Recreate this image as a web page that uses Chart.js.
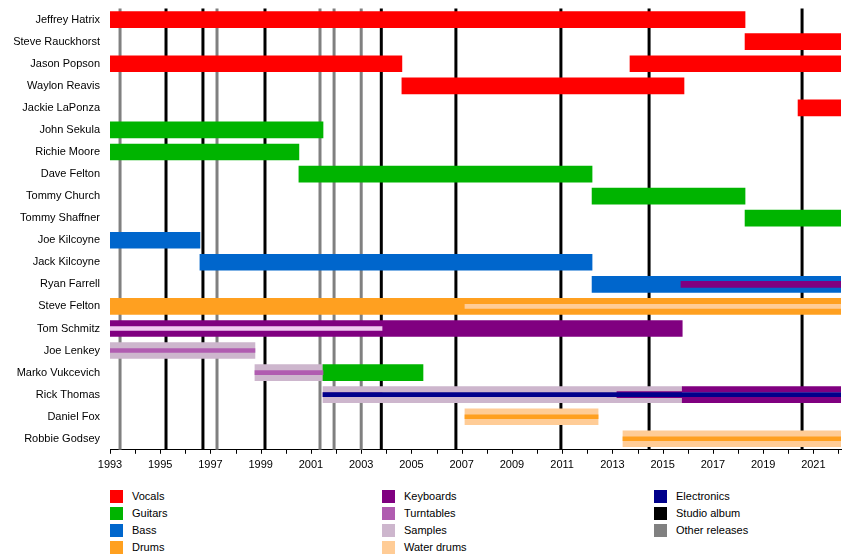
<!DOCTYPE html>
<html>
<head>
<meta charset="utf-8">
<script src="https://cdn.jsdelivr.net/npm/chart.js@4/dist/chart.umd.min.js"></script>
<style>
  body { margin: 0; background: #fff; font-family: "Liberation Sans", Arial, sans-serif; }
  #wrap { position: relative; width: 850px; height: 473px; }
  #legend { position: relative; width: 850px; height: 84px; font-size: 11px; }
  .item { position: absolute; height: 17px; line-height: 13px; }
  .sw { display: inline-block; width: 13px; height: 13px; vertical-align: top; margin-right: 9px; }
</style>
</head>
<body>
<div id="wrap"><canvas id="myChart"></canvas></div>
<div id="legend"></div>
<script>
const members = ['Jeffrey Hatrix', 'Steve Rauckhorst', 'Jason Popson', 'Waylon Reavis', 'Jackie LaPonza',
  'John Sekula', 'Richie Moore', 'Dave Felton', 'Tommy Church', 'Tommy Shaffner', 'Joe Kilcoyne',
  'Jack Kilcoyne', 'Ryan Farrell', 'Steve Felton', 'Tom Schmitz', 'Joe Lenkey', 'Marko Vukcevich',
  'Rick Thomas', 'Daniel Fox', 'Robbie Godsey'];

// segments: [member index, start, end]
const vocals = [[0, 1993, 2018.28], [1, 2018.28, 2022.1], [2, 1993, 2004.62], [2, 2013.7, 2022.1], [3, 2004.62, 2015.85], [4, 2020.39, 2022.1]];
const guitars = [[5, 1993, 2001.48], [6, 1993, 2000.52], [7, 2000.52, 2012.19], [8, 2012.19, 2018.28], [9, 2018.28, 2022.1], [16, 2001.48, 2005.46]];
const bass = [[10, 1993, 1996.58], [11, 1996.58, 2012.19], [12, 2012.19, 2022.1]];
const drums = [[13, 1993, 2022.1]];
const keyboards = [[14, 1993, 2015.78], [17, 2015.78, 2022.1]];
const samples = [[15, 1993, 1998.77], [16, 1998.77, 2001.48], [17, 2001.48, 2015.78]];
const waterDrums = [[18, 2007.13, 2012.43], [19, 2013.42, 2022.1]];
// thin secondary lines
const keyboardsThin = [[12, 2015.73, 2022.1], [17, 2013.18, 2015.78]];
const samplesThin = [[14, 1993, 2003.83], [17, 2015.78, 2022.1]];
const turntablesThin = [[15, 1993, 1998.77], [16, 1998.77, 2001.48], [17, 2001.48, 2003.83]];
const waterDrumsThin = [[13, 2007.13, 2022.1]];
const drumsThin = [[18, 2007.13, 2012.43], [19, 2013.42, 2022.1]];
const electronicsThin = [[17, 2001.48, 2022.1]];

const studioAlbums = [1995.23, 1996.7, 1999.17, 2003.8, 2006.77, 2010.95, 2014.46, 2020.55];
const otherReleases = [1993.4, 1997.26, 2001.36, 2001.92, 2003.0];

const colors = {
  Vocals: '#ff0000', Guitars: '#00b400', Bass: '#0066cc', Drums: '#ffa020',
  Keyboards: '#800080', Turntables: '#b05cb0', Samples: '#cdb6cd', 'Water drums': '#ffcc96',
  Electronics: '#00008b', 'Studio album': '#000000', 'Other releases': '#808080'
};

const datasets = [];
function addRole(segs, color, thick) {
  // split into datasets so one member has only one segment per dataset
  const groups = [];
  segs.forEach(function (s) {
    let g = groups.find(function (g) { return g[s[0]] === undefined; });
    if (!g) { g = new Array(members.length); groups.push(g); }
    g[s[0]] = [s[1], s[2]];
  });
  groups.forEach(function (g) {
    const data = [];
    for (let i = 0; i < members.length; i++) data.push(g[i] === undefined ? null : g[i]);
    // later datasets get a lower order so they are drawn on top
    datasets.push({ data: data, backgroundColor: color, barThickness: thick, grouped: false,
      borderSkipped: false, borderWidth: 0, order: -datasets.length });
  });
}
addRole(samples, colors.Samples, 16);
addRole(keyboards, colors.Keyboards, 16);
addRole(vocals, colors.Vocals, 16);
addRole(guitars, colors.Guitars, 16);
addRole(bass, colors.Bass, 16);
addRole(drums, colors.Drums, 16);
addRole(waterDrums, colors['Water drums'], 16);
addRole(keyboardsThin, colors.Keyboards, 6);
addRole(samplesThin, '#f0c8f0', 4);
addRole(turntablesThin, colors.Turntables, 4);
addRole(waterDrumsThin, colors['Water drums'], 4);
addRole(drumsThin, colors.Drums, 4);
addRole(electronicsThin, colors.Electronics, 4);

const releaseLines = {
  id: 'releaseLines',
  beforeDatasetsDraw: function (chart) {
    const ctx = chart.ctx, x = chart.scales.x, area = chart.chartArea;
    ctx.save();
    ctx.lineWidth = 3;
    function draw(list, color) {
      ctx.strokeStyle = color;
      list.forEach(function (v) {
        const px = x.getPixelForValue(v);
        ctx.beginPath(); ctx.moveTo(px, area.top); ctx.lineTo(px, area.bottom); ctx.stroke();
      });
    }
    draw(otherReleases, colors['Other releases']);
    draw(studioAlbums, colors['Studio album']);
    ctx.restore();
  },
  afterDatasetsDraw: function (chart) {
    const ctx = chart.ctx, x = chart.scales.x, area = chart.chartArea;
    ctx.save();
    ctx.strokeStyle = '#000'; ctx.lineWidth = 1;
    for (let yr = 1993; yr <= 2022; yr++) {
      const px = Math.round(x.getPixelForValue(yr)) + 0.5;
      ctx.beginPath(); ctx.moveTo(px, area.bottom); ctx.lineTo(px, area.bottom + 4); ctx.stroke();
    }
    ctx.restore();
  }
};

new Chart('myChart', {
  type: 'bar',
  data: { labels: members, datasets: datasets },
  options: {
    indexAxis: 'y',
    responsive: true,
    maintainAspectRatio: false,
    animation: false,
    layout: { padding: { top: 4, right: 9, left: 0, bottom: 0 } },
    plugins: { legend: { display: false }, tooltip: { enabled: false } },
    scales: {
      x: {
        type: 'linear', min: 1993, max: 2022.1,
        grid: { display: false },
        border: { display: true, color: '#000' },
        ticks: {
          stepSize: 2, color: '#000', padding: 1, maxRotation: 0,
          font: { family: 'Liberation Sans', size: 11 },
          callback: function (v) { return String(v); }
        },
        afterBuildTicks: function (ax) {
          ax.ticks = [];
          for (let y = 1993; y <= 2021; y += 2) ax.ticks.push({ value: y });
        }
      },
      y: {
        grid: { display: false },
        border: { display: false },
        afterFit: function (ax) { ax.width = 110; },
        ticks: { color: '#000', font: { family: 'Liberation Sans', size: 11 }, padding: 2 }
      }
    }
  },
  plugins: [releaseLines]
});

const legendItems = [
  ['Vocals', 110, 0], ['Guitars', 110, 17], ['Bass', 110, 34], ['Drums', 110, 51],
  ['Keyboards', 382, 0], ['Turntables', 382, 17], ['Samples', 382, 34], ['Water drums', 382, 51],
  ['Electronics', 654, 0], ['Studio album', 654, 17], ['Other releases', 654, 34]
];
const legend = document.getElementById('legend');
legendItems.forEach(function (it) {
  const d = document.createElement('div');
  d.className = 'item';
  d.style.left = it[1] + 'px';
  d.style.top = (17 + it[2]) + 'px';
  d.innerHTML = '<span class="sw" style="background:' + colors[it[0]] + '"></span>' + it[0];
  legend.appendChild(d);
});
</script>
</body>
</html>
